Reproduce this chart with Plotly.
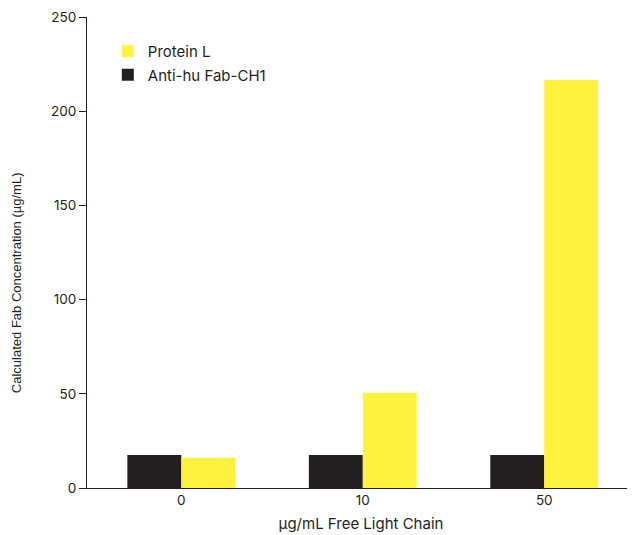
import plotly.graph_objects as go

categories = ["0", "10", "50"]
anti_hu = [17.5, 17.5, 17.5]
protein_l = [16.0, 50.5, 216.5]
y_ticks = [0, 50, 100, 150, 200, 250]

font_family = "Inter, Lato, sans-serif"

fig = go.Figure()
fig.add_trace(go.Bar(x=categories, y=anti_hu, name="Anti-hu Fab-CH1", legendgroup="a",
                     legendrank=2,
                     marker=dict(color="#231f20", line=dict(width=0))))
fig.add_trace(go.Bar(x=categories, y=protein_l, name="Protein L", legendgroup="p",
                     legendrank=1,
                     marker=dict(color="#fff23f", line=dict(width=0))))

fig.update_layout(
    width=627, height=527,
    margin=dict(l=79, r=0, t=9, b=47),
    paper_bgcolor="white", plot_bgcolor="white",
    barmode="group", bargap=0.405, bargroupgap=0.0,
    font=dict(family=font_family, size=13.5, color="#231f20"),
    legend=dict(x=0.038, y=0.962, xanchor="left", yanchor="top",
                traceorder="grouped", tracegroupgap=1, font=dict(size=15),
                bgcolor="rgba(0,0,0,0)", itemwidth=30),
    xaxis=dict(range=[-0.52, 2.5], showline=True, linecolor="#231f20", linewidth=1.2,
               ticks="", showgrid=False, tickfont=dict(size=13.5), automargin=False,
               title=dict(text="µg/mL Free Light Chain", font=dict(size=15), standoff=11)),
    yaxis=dict(range=[0, 250], tickvals=y_ticks, showline=True, linecolor="#231f20",
               linewidth=1.2, ticks="outside", ticklen=7, tickcolor="#231f20",
               showgrid=False, zeroline=False, tickfont=dict(size=13.5), automargin=False),
    annotations=[dict(text="Calculated Fab Concentration (µg/mL)", xref="paper", yref="paper",
                      x=-0.1296, y=0.437, xanchor="center", yanchor="middle", textangle=-90,
                      showarrow=False,
                      font=dict(size=13, family="Liberation Sans, Arial, sans-serif", color="#231f20"))],
)

fig.write_html("out.html")
